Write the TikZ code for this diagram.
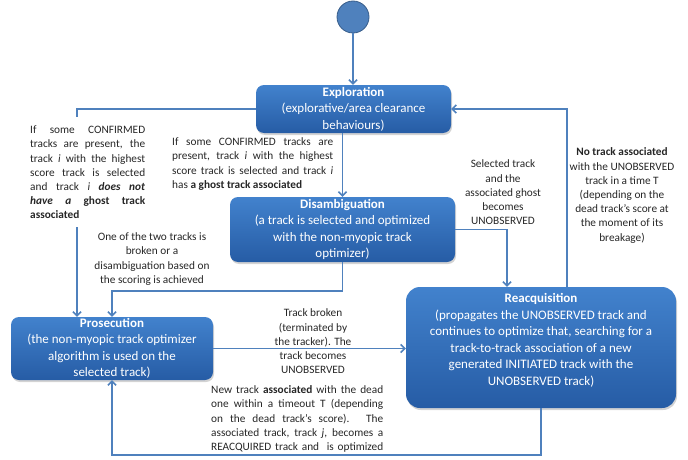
\documentclass[tikz,border=0pt]{standalone}
\usepackage{fontspec}
\setmainfont{Carlito}
\usetikzlibrary{arrows.meta,shadows}
\definecolor{lineblue}{RGB}{79,129,189}
\definecolor{boxtop}{RGB}{66,130,205}
\definecolor{boxbot}{RGB}{38,92,165}
\definecolor{circfill}{RGB}{79,129,189}
\definecolor{circdraw}{RGB}{56,93,138}
\begin{document}
\begin{tikzpicture}[x=1pt,y=-1pt,
  box/.style={rounded corners=8pt, top color=boxtop, bottom color=boxbot, draw=none, text=white, align=center,
    font=\fontsize{13}{16.5}\selectfont, inner sep=0pt,
    drop shadow={opacity=0.35,shadow xshift=1pt,shadow yshift=-2pt}},
  boxtext/.style={text=white, align=center, font=\fontsize{13}{16.5}\selectfont, inner sep=0pt},
  note/.style={font=\fontsize{11.3}{14.2}\selectfont, inner sep=0pt, text=black!85},
  conn/.style={draw=lineblue, line width=1.6pt},
  arr/.style={conn, -{Straight Barb[length=4pt,width=8pt]}}
]
\useasboundingbox (0,0) rectangle (688,460);

% states
\node[circle, fill=circfill, draw=circdraw, line width=0.8pt, minimum size=32pt, inner sep=0pt] (start) at (353,17) {};
\node[box, minimum width=195pt, minimum height=48pt] (expl) at (353.5,109)
  {\textbf{Exploration}\\(explorative/area clearance\\behaviours)};
\node[box, minimum width=225pt, minimum height=65pt] (dis) at (342.5,229.5)
  {\textbf{Disambiguation}\\(a track is selected and optimized\\with the non-myopic track\\optimizer)};
\node[box, minimum width=202pt, minimum height=63pt] (pros) at (112,348.5)
  {\textbf{Prosecution}\\(the non-myopic track optimizer\\algorithm is used on the\\selected track)};
\node[box, rounded corners=14pt, minimum width=270pt, minimum height=121pt] (reac) at (541,347.5) {};
\node[boxtext] (reactext) at (541,340.5)
  {\textbf{Reacquisition}\\(propagates the UNOBSERVED track and\\continues to optimize that, searching for a\\track-to-track association of a new\\generated INITIATED track with the\\UNOBSERVED track)};

% helper coordinates
\coordinate (c1) at (77,117);
\coordinate (c2) at (77,227);
\coordinate (c3) at (112,291);
\coordinate (c5) at (507,229.5);
\coordinate (c6) at (567,109);
\coordinate (c7) at (112,455);

% connectors
\draw[arr] (start.south) -- (start.south |- expl.north);
\draw[conn] (expl.west) -| (c1);
\draw[arr] (c2) -- (c2 |- pros.north);
\draw[arr] (dis.north |- expl.south) -- (dis.north);
\draw[arr] (dis.south) |- (c3) -- (c3 |- pros.north);
\draw[arr] (dis.east) -- (c5) -- (c5 |- reac.north);
\draw[arr] (c6 |- reac.north) -- (c6) -- (expl.east);
\draw[arr] (pros.east) -- (pros.east -| reac.west);
\draw[arr] (reac.south) |- (c7) -- (pros.south);

% notes
\node[note, anchor=west, align=left] (n1) at (30,172.5)
  {\makebox[115pt][s]{If some CONFIRMED}\\
   \makebox[115pt][s]{tracks are present, the}\\
   \makebox[115pt][s]{track \textit{i} with the highest}\\
   \makebox[115pt][s]{score track is selected}\\
   \makebox[115pt][s]{and track \textit{i} \textbf{\textit{does not}}}\\
   \makebox[115pt][s]{\textbf{\textit{have a}} \textbf{ghost track}}\\
   \textbf{associated}};
\node[note, anchor=west, align=left] (n2) at (172,164)
  {\makebox[161pt][s]{If some CONFIRMED tracks are}\\
   \makebox[161pt][s]{present, track \textit{i} with the highest}\\
   \makebox[161pt][s]{score track is selected and track \textit{i}}\\
   has \textbf{a ghost track associated}};
\node[note, align=center] (n3) at (152,259)
  {One of the two tracks is\\broken or a\\disambiguation based on\\the scoring is achieved};
\node[note, align=center] (n4) at (503,192.5)
  {Selected track\\and the\\associated ghost\\becomes\\UNOBSERVED};
\node[note, align=center] (n5) at (622,195.5)
  {\textbf{No track associated}\\with the UNOBSERVED\\track in a time T\\(depending on the\\dead track’s score at\\the moment of its\\breakage)};
\node[note, align=center] (n6) at (313,341.5)
  {Track broken\\(terminated by\\the tracker). The\\track becomes\\UNOBSERVED};
\node[note, anchor=west, align=left] (n7) at (211,419)
  {\makebox[172pt][s]{New track \textbf{associated} with the dead}\\
   \makebox[172pt][s]{one within a timeout T (depending}\\
   \makebox[172pt][s]{on the dead track’s score). The}\\
   \makebox[172pt][s]{associated track, track \textit{j}, becomes a}\\
   \makebox[172pt][s]{REACQUIRED track and \ is optimized}};
\end{tikzpicture}
\end{document}
